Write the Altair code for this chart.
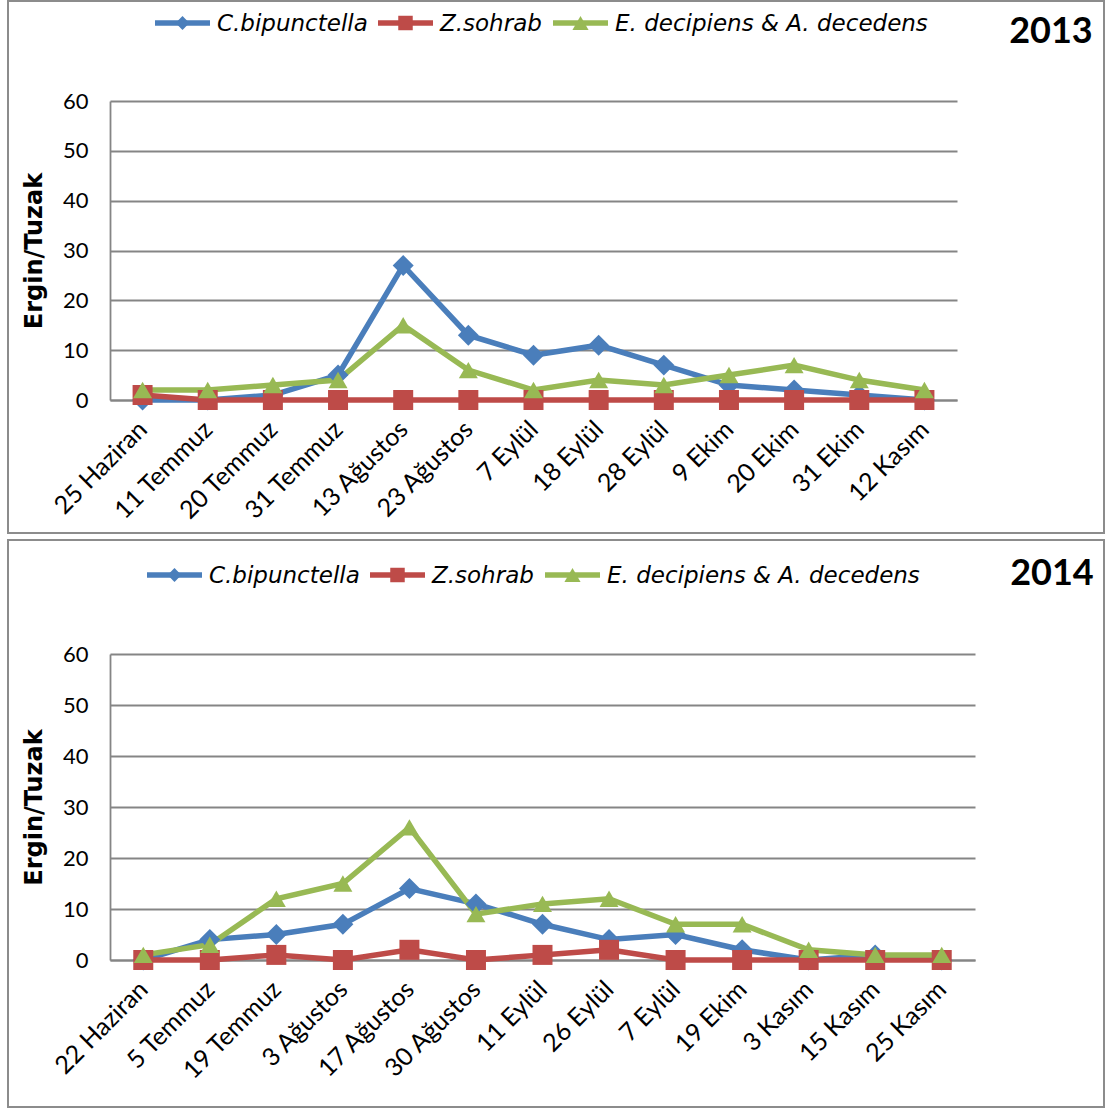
import altair as alt
import pandas as pd

# Series, their colours and marker shapes
SERIES = ["C.bipunctella", "Z.sohrab", "E. decipiens & A. decedens"]
COLORS = ["#4a7ebb", "#be4b48", "#98b954"]
SHAPES = ["diamond", "square", "triangle-up"]
Y_TICKS = [0, 10, 20, 30, 40, 50, 60]

# 2013 trap counts (adults per trap)
dates_2013 = ["25 Haziran", "11 Temmuz", "20 Temmuz", "31 Temmuz", "13 Ağustos",
              "23 Ağustos", "7 Eylül", "18 Eylül", "28 Eylül", "9 Ekim",
              "20 Ekim", "31 Ekim", "12 Kasım"]
cbip_2013 = [0, 0, 1, 5, 27, 13, 9, 11, 7, 3, 2, 1, 0]
zsoh_2013 = [1, 0, 0, 0, 0, 0, 0, 0, 0, 0, 0, 0, 0]
edec_2013 = [2, 2, 3, 4, 15, 6, 2, 4, 3, 5, 7, 4, 2]

# 2014 trap counts (adults per trap)
dates_2014 = ["22 Haziran", "5 Temmuz", "19 Temmuz", "3 Ağustos", "17 Ağustos",
              "30 Ağustos", "11 Eylül", "26 Eylül", "7 Eylül", "19 Ekim",
              "3 Kasım", "15 Kasım", "25 Kasım"]
cbip_2014 = [0, 4, 5, 7, 14, 11, 7, 4, 5, 2, 0, 1, 0]
zsoh_2014 = [0, 0, 1, 0, 2, 0, 1, 2, 0, 0, 0, 0, 0]
edec_2014 = [1, 3, 12, 15, 26, 9, 11, 12, 7, 7, 2, 1, 1]

GRID = "#858585"
FRAME = "#8c8c8c"
POINT_SIZES = [440, 360, 470]
LEGEND_SIZES = [190, 210, 260]


def long_table(dates, columns):
    rows = []
    for name, vals in zip(SERIES, columns):
        for d, v in zip(dates, vals):
            rows.append({"date": d, "series": name, "value": v})
    return pd.DataFrame(rows)


def panel(dates, columns, year, width, height, frame_y, legend_x, legend_y, year_xy):
    df = long_table(dates, columns)
    one = pd.DataFrame({"k": [0]})

    x = alt.X(
        "date:N", sort=dates,
        scale=alt.Scale(type="point", padding=0.5),
        axis=alt.Axis(title=None, labelAngle=-45, labelAlign="right",
                      labelBaseline="middle", labelPadding=25, ticks=False,
                      grid=False, labelFont="Lato", labelFontSize=25,
                      labelColor="black", domainColor=GRID, domainWidth=1.8,
                      labelOverlap=False),
    )
    y = alt.Y(
        "value:Q",
        scale=alt.Scale(domain=[0, 60], nice=False),
        axis=alt.Axis(values=Y_TICKS, title="Ergin/Tuzak", titleFont="DejaVu Sans",
                      titleFontWeight="bold", titleFontSize=24, titleColor="black",
                      titlePadding=16, labelFont="Lato", labelFontSize=22,
                      labelColor="black", labelPadding=22, ticks=False,
                      grid=True, gridColor=GRID, gridWidth=1.8,
                      domainColor=GRID, domainWidth=1.8),
    )
    color = alt.Color("series:N", scale=alt.Scale(domain=SERIES, range=COLORS), legend=None)

    base = alt.Chart(df)
    lines = base.mark_line(strokeWidth=5.5).encode(x=x, y=y, color=color)
    points = base.mark_point(filled=True, opacity=1).encode(
        x=x, y=y, color=color,
        shape=alt.Shape("series:N", scale=alt.Scale(domain=SERIES, range=SHAPES), legend=None),
        size=alt.Size("series:N", scale=alt.Scale(domain=SERIES, range=POINT_SIZES), legend=None),
    )

    frame = alt.Chart(one).mark_rect(fillOpacity=0, stroke=FRAME, strokeWidth=2).encode(
        x=alt.value(-102), x2=alt.value(994),
        y=alt.value(frame_y[0]), y2=alt.value(frame_y[1]),
    )

    legend_layers = []
    for i, name in enumerate(SERIES):
        x0 = legend_x[i]
        legend_layers.append(
            alt.Chart(one).mark_rule(color=COLORS[i], strokeWidth=5.5).encode(
                x=alt.value(x0), x2=alt.value(x0 + 55), y=alt.value(legend_y))
        )
        legend_layers.append(
            alt.Chart(one).mark_point(filled=True, opacity=1, color=COLORS[i],
                                      shape=SHAPES[i], size=LEGEND_SIZES[i]).encode(
                x=alt.value(x0 + 27.5), y=alt.value(legend_y))
        )
        legend_layers.append(
            alt.Chart(one).mark_text(text=name, font="DejaVu Sans", fontStyle="italic",
                                     fontSize=23, align="left", baseline="middle",
                                     color="black").encode(
                x=alt.value(x0 + 62), y=alt.value(legend_y + 1))
        )

    year_text = alt.Chart(one).mark_text(text=year, font="Lato", fontWeight="bold",
                                         fontSize=36, align="center", baseline="middle",
                                         color="black").encode(
        x=alt.value(year_xy[0]), y=alt.value(year_xy[1]))

    return alt.layer(frame, lines, points, *legend_layers, year_text).properties(
        width=width, height=height)


top = panel(dates_2013, [cbip_2013, zsoh_2013, edec_2013], "2013", 847, 299,
            (-100, 432), (45, 268, 443), -78, (941, -69))
bottom = panel(dates_2014, [cbip_2014, zsoh_2014, edec_2014], "2014", 865, 306,
               (-114, 453), (37, 260, 435), -79, (942, -80))

chart = alt.vconcat(top, bottom, spacing=5).properties(
    padding={"left": 7, "top": 0, "right": 0, "bottom": 0},
    background="white",
).configure_view(stroke=None)

chart.save("out.html", embed_options={"renderer": "svg", "actions": False})
